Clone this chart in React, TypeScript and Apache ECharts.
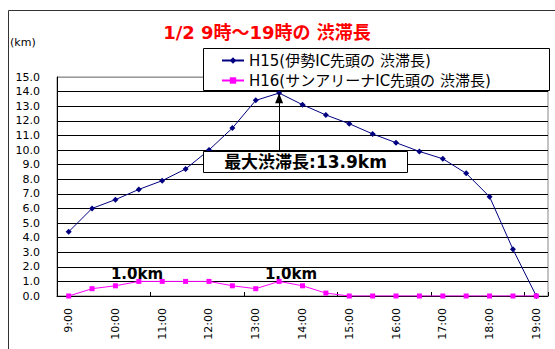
import React, { useEffect, useRef } from "react";
import * as echarts from "echarts";

const times = [
  "9:00", "9:30", "10:00", "10:30", "11:00", "11:30", "12:00", "12:30", "13:00", "13:30",
  "14:00", "14:30", "15:00", "15:30", "16:00", "16:30", "17:00", "17:30", "18:00", "18:30", "19:00",
];
const h15 = [4.4, 6.0, 6.6, 7.3, 7.9, 8.7, 10.0, 11.5, 13.4, 13.9, 13.1, 12.4, 11.8, 11.1, 10.5, 9.9, 9.4, 8.4, 6.8, 3.2, 0.0];
const h16 = [0.0, 0.5, 0.7, 1.0, 1.0, 1.0, 1.0, 0.7, 0.5, 1.0, 0.7, 0.2, 0.0, 0.0, 0.0, 0.0, 0.0, 0.0, 0.0, 0.0, 0.0];
const seriesNames = ["H15(伊勢IC先頭の 渋滞長)", "H16(サンアリーナIC先頭の 渋滞長)"];
const titleText = "1/2 9時〜19時の 渋滞長";
const unitText = "(km)";
const peakText = "最大渋滞長:13.9km";
const smallPeakText = "1.0km";
const yTicks = [0, 1, 2, 3, 4, 5, 6, 7, 8, 9, 10, 11, 12, 13, 14, 15];

const FONT = "'DejaVu Sans', 'Noto Sans CJK JP', sans-serif";

export default function App() {
  const ref = useRef<HTMLDivElement>(null);
  useEffect(() => {
    document.body.style.margin = "0";
    if (!ref.current) return;
    const chart = echarts.init(ref.current, null, { renderer: "svg" });
    const peakIdx = h15.indexOf(Math.max(...h15));
    const splitColors = yTicks.map((v, i) => (i === yTicks.length - 1 ? "#999" : "#000"));
    chart.setOption({
      animation: false,
      backgroundColor: "#fff",
      textStyle: { fontFamily: FONT },
      title: {
        text: titleText,
        left: 267,
        textAlign: "center",
        top: 23,
        padding: 0,
        textStyle: { color: "#ff0000", fontWeight: "bold", fontSize: 18, fontFamily: FONT },
      },
      legend: {
        orient: "vertical",
        left: 221,
        top: 53,
        padding: 0,
        itemGap: 5,
        itemWidth: 22,
        itemHeight: 8,
        z: 6,
        textStyle: { fontSize: 15, color: "#000", fontFamily: FONT },
        data: seriesNames,
      },
      grid: {
        left: 57,
        top: 77,
        right: 7,
        bottom: 53,
        show: true,
        borderColor: "#888",
        borderWidth: 1,
        backgroundColor: "#fff",
      },
      xAxis: {
        type: "category",
        data: times,
        boundaryGap: true,
        axisLine: { lineStyle: { color: "#000", width: 1 } },
        axisTick: { show: true, interval: 3, inside: true, length: 4, lineStyle: { color: "#000" } },
        axisLabel: { interval: 1, rotate: 90, fontSize: 11, color: "#000", margin: 12, fontFamily: FONT },
        splitLine: { show: false },
      },
      yAxis: {
        type: "value",
        min: 0,
        max: 15,
        interval: 1,
        axisLine: { show: true, lineStyle: { color: "#000", width: 1 } },
        axisTick: { show: false },
        axisLabel: { fontSize: 11, color: "#000", margin: 17, fontFamily: FONT, formatter: (v: number) => v.toFixed(1) },
        splitLine: { show: true, lineStyle: { color: splitColors, width: 1 } },
      },
      series: [
        {
          name: seriesNames[0],
          type: "line",
          data: h15,
          color: "#000080",
          lineStyle: { color: "#000080", width: 1 },
          itemStyle: { color: "#000080" },
          symbol: "diamond",
          symbolSize: 6,
          z: 3,
          markLine: {
            silent: true,
            symbol: ["none", "triangle"],
            symbolSize: [8, 10],
            label: { show: false },
            lineStyle: { color: "#000", width: 1, type: "solid" },
            data: [[
              { coord: [times[peakIdx], 9.9] },
              { coord: [times[peakIdx], h15[peakIdx] - 0.35] },
            ]],
          },
        },
        {
          name: seriesNames[1],
          type: "line",
          data: h16,
          color: "#ff00ff",
          lineStyle: { color: "#ff00ff", width: 1 },
          itemStyle: { color: "#ff00ff" },
          symbol: "rect",
          symbolSize: 5,
          z: 3,
        },
      ],
      graphic: [
        {
          type: "rect",
          z: 1,
          shape: { x: 8.5, y: 10.5, width: 700, height: 500 },
          style: { fill: "none", stroke: "#333", lineWidth: 1 },
          silent: true,
        },
        {
          type: "text",
          z: 1,
          x: 10,
          y: 37,
          style: { text: unitText, fill: "#000", font: `11px ${FONT}` },
        },
        {
          type: "rect",
          z: 5,
          shape: { x: 203.5, y: 48.5, width: 346, height: 42 },
          style: { fill: "#fff", stroke: "#000", lineWidth: 1 },
          silent: true,
        },
        {
          type: "rect",
          z: 10,
          shape: { x: 203.5, y: 151.5, width: 204, height: 21 },
          style: { fill: "#fff", stroke: "#000", lineWidth: 1 },
          silent: true,
        },
        {
          type: "text",
          z: 11,
          x: 305.5,
          y: 162,
          style: {
            text: peakText,
            fill: "#000",
            font: `bold 17px ${FONT}`,
            textAlign: "center",
            textVerticalAlign: "middle",
          },
        },
        {
          type: "text",
          z: 11,
          x: 137,
          y: 274,
          style: {
            text: smallPeakText,
            fill: "#000",
            font: `bold 15px ${FONT}`,
            textAlign: "center",
            textVerticalAlign: "middle",
          },
        },
        {
          type: "text",
          z: 11,
          x: 291,
          y: 274,
          style: {
            text: smallPeakText,
            fill: "#000",
            font: `bold 15px ${FONT}`,
            textAlign: "center",
            textVerticalAlign: "middle",
          },
        },
      ],
    });
    return () => chart.dispose();
  }, []);
  return <div ref={ref} style={{ width: 555, height: 349 }} />;
}
